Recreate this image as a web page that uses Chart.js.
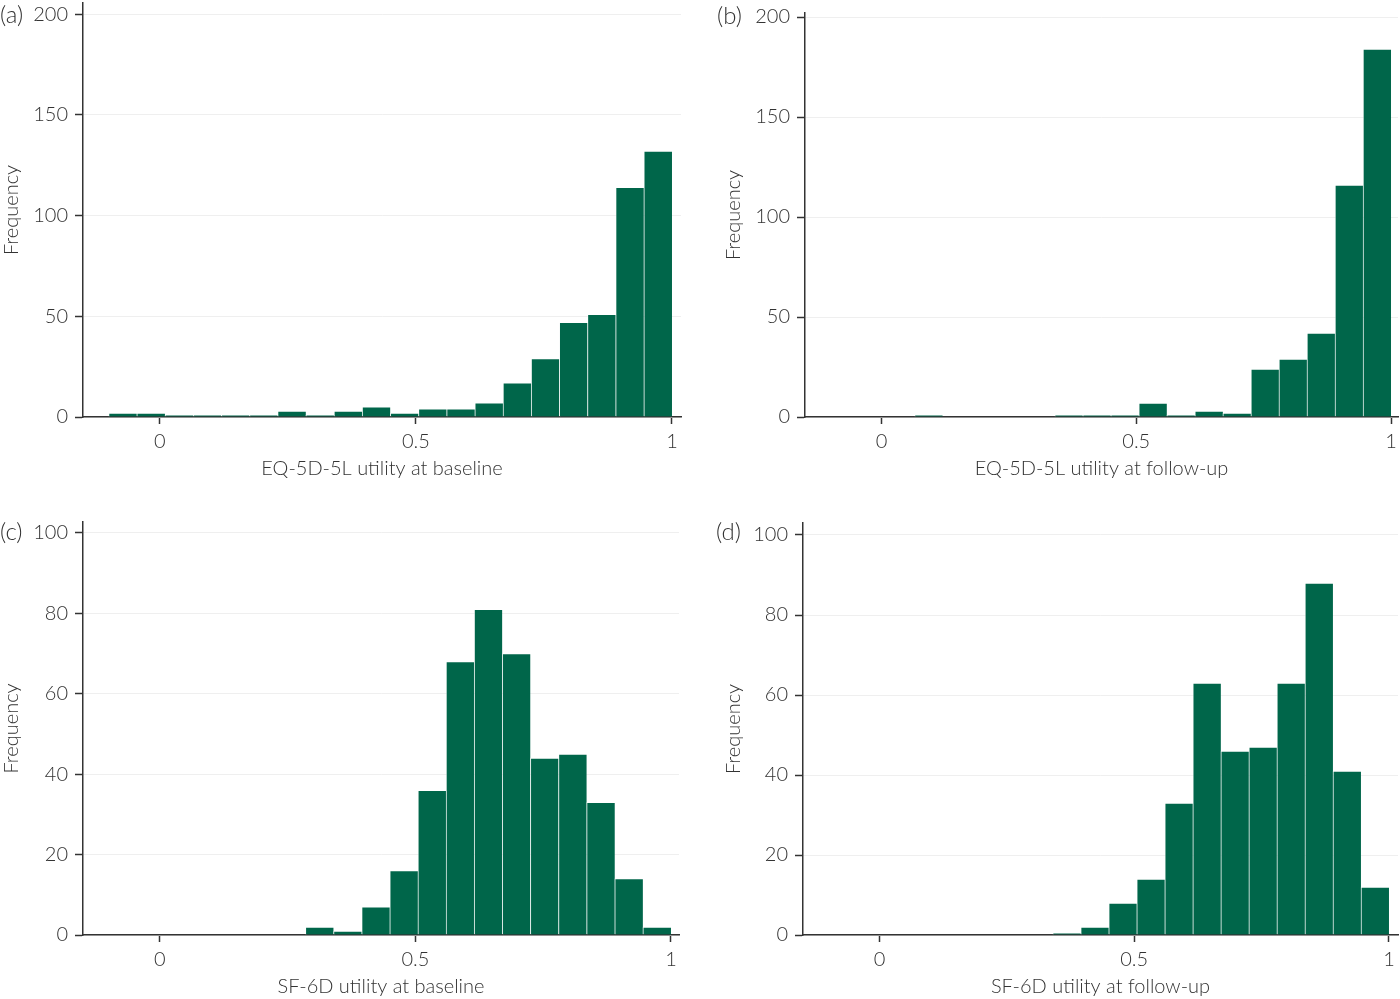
<!DOCTYPE html>
<html>
<head>
<meta charset="utf-8">
<script src="https://cdn.jsdelivr.net/npm/chart.js@4.4.1/dist/chart.umd.min.js"></script>
<style>
  body { margin: 0; background: #fff; width: 1400px; height: 999px; position: relative; overflow: hidden; }
  canvas { position: absolute; }
  .tag { position: absolute; font: 300 24px Lato, sans-serif; color: #333; line-height: 26px; }
</style>
</head>
<body>
<canvas id="chartA" style="left:0;top:0" width="700" height="490"></canvas>
<canvas id="chartB" style="left:722px;top:0" width="678" height="490"></canvas>
<canvas id="chartC" style="left:0;top:510px" width="700" height="489"></canvas>
<canvas id="chartD" style="left:722px;top:510px" width="678" height="489"></canvas>
<div class="tag" style="left:0;top:1px">(a)</div>
<div class="tag" style="left:717px;top:2px">(b)</div>
<div class="tag" style="left:0;top:518px">(c)</div>
<div class="tag" style="left:716px;top:518px">(d)</div>
<script>
// bin centres (bin width 0.055) and frequencies
const binsA = [-0.0725, -0.0175, 0.0375, 0.0925, 0.1475, 0.2025, 0.2575, 0.3125, 0.3675, 0.4225,
               0.4775, 0.5325, 0.5875, 0.6425, 0.6975, 0.7525, 0.8075, 0.8625, 0.9175, 0.9725];
const countsA = [2, 2, 1, 1, 1, 1, 3, 1, 3, 5, 2, 4, 4, 7, 17, 29, 47, 51, 114, 132];

const binsB = [0.0925, 0.1475, 0.2025, 0.2575, 0.3125, 0.3675, 0.4225, 0.4775, 0.5325,
               0.5875, 0.6425, 0.6975, 0.7525, 0.8075, 0.8625, 0.9175, 0.9725];
const countsB = [1, 0, 0, 0, 0, 1, 1, 1, 7, 1, 3, 2, 24, 29, 42, 116, 184];

const binsC = [0.3125, 0.3675, 0.4225, 0.4775, 0.5325, 0.5875, 0.6425, 0.6975, 0.7525,
               0.8075, 0.8625, 0.9175, 0.9725];
const countsC = [2, 1, 7, 16, 36, 68, 81, 70, 44, 45, 33, 14, 2];

const binsD = [0.3675, 0.4225, 0.4775, 0.5325, 0.5875, 0.6425, 0.6975, 0.7525,
               0.8075, 0.8625, 0.9175, 0.9725];
const countsD = [0.5, 2, 8, 14, 33, 63, 46, 47, 63, 88, 41, 12];

const xTicks = [0, 0.5, 1];
const yTicksEQ = [0, 50, 100, 150, 200];
const yTicksSF = [0, 20, 40, 60, 80, 100];

const GREEN = '#00664a';
const INK = '#333';
const FONT = { family: 'Lato, sans-serif', size: 20, weight: 300 };

function histogram(id, bins, counts, xTitle, yTicks, box) {
  new Chart(document.getElementById(id), {
    type: 'bar',
    data: {
      datasets: [{
        data: bins.map((b, i) => ({ x: b, y: counts[i] })),
        backgroundColor: GREEN,
        borderColor: 'rgba(255,255,255,0.45)',
        borderWidth: { top: 1, left: 1, right: 0, bottom: 0 },
        borderSkipped: false,
        barPercentage: 1,
        categoryPercentage: 1
      }]
    },
    options: {
      responsive: false,
      animation: false,
      layout: { padding: box.pad },
      plugins: { legend: { display: false }, tooltip: { enabled: false } },
      scales: {
        x: {
          type: 'linear',
          offset: false,
          min: -0.15,
          max: box.xMax,
          afterBuildTicks: s => { s.ticks = xTicks.map(v => ({ value: v })); },
          afterFit: s => { s.height = 64; s.paddingLeft = 0; s.paddingRight = 0; },
          ticks: { color: INK, font: FONT, padding: 6, maxRotation: 0, callback: v => String(v) },
          grid: { offset: false, drawOnChartArea: false, drawTicks: true, tickLength: 7, tickColor: INK, tickWidth: 1.5 },
          border: { color: INK, width: 1.5 },
          title: { display: true, text: xTitle, color: INK, font: FONT, padding: 0 }
        },
        y: {
          min: 0,
          max: box.yMax,
          afterBuildTicks: s => { s.ticks = yTicks.map(v => ({ value: v })); },
          afterFit: s => { s.width = box.yw; s.paddingTop = 0; s.paddingBottom = 0; },
          ticks: { color: INK, font: FONT, padding: 7, callback: v => String(v) },
          grid: { color: '#efefef', lineWidth: 1, drawTicks: true, tickLength: 8, tickColor: INK, tickWidth: 1.5 },
          border: { color: INK, width: 1.5 },
          title: { display: true, text: 'Frequency', color: INK, font: FONT, padding: 0 }
        }
      }
    }
  });
}

histogram('chartA', binsA, countsA, 'EQ-5D-5L utility at baseline', yTicksEQ,
  { pad: { top: 3, right: 19, bottom: 9, left: 0 }, yw: 83, xMax: 1.0176, yMax: 205.5 });
histogram('chartB', binsB, countsB, 'EQ-5D-5L utility at follow-up', yTicksEQ,
  { pad: { top: 13, right: 2, bottom: 9, left: 0 }, yw: 83, xMax: 1.0137, yMax: 202 });
histogram('chartC', binsC, countsC, 'SF-6D utility at baseline', yTicksSF,
  { pad: { top: 12, right: 21, bottom: 0, left: 0 }, yw: 83, xMax: 1.0157, yMax: 102.7 });
histogram('chartD', binsD, countsD, 'SF-6D utility at follow-up', yTicksSF,
  { pad: { top: 13, right: 2, bottom: 0, left: 0 }, yw: 81, xMax: 1.0177, yMax: 103 });
</script>
</body>
</html>
